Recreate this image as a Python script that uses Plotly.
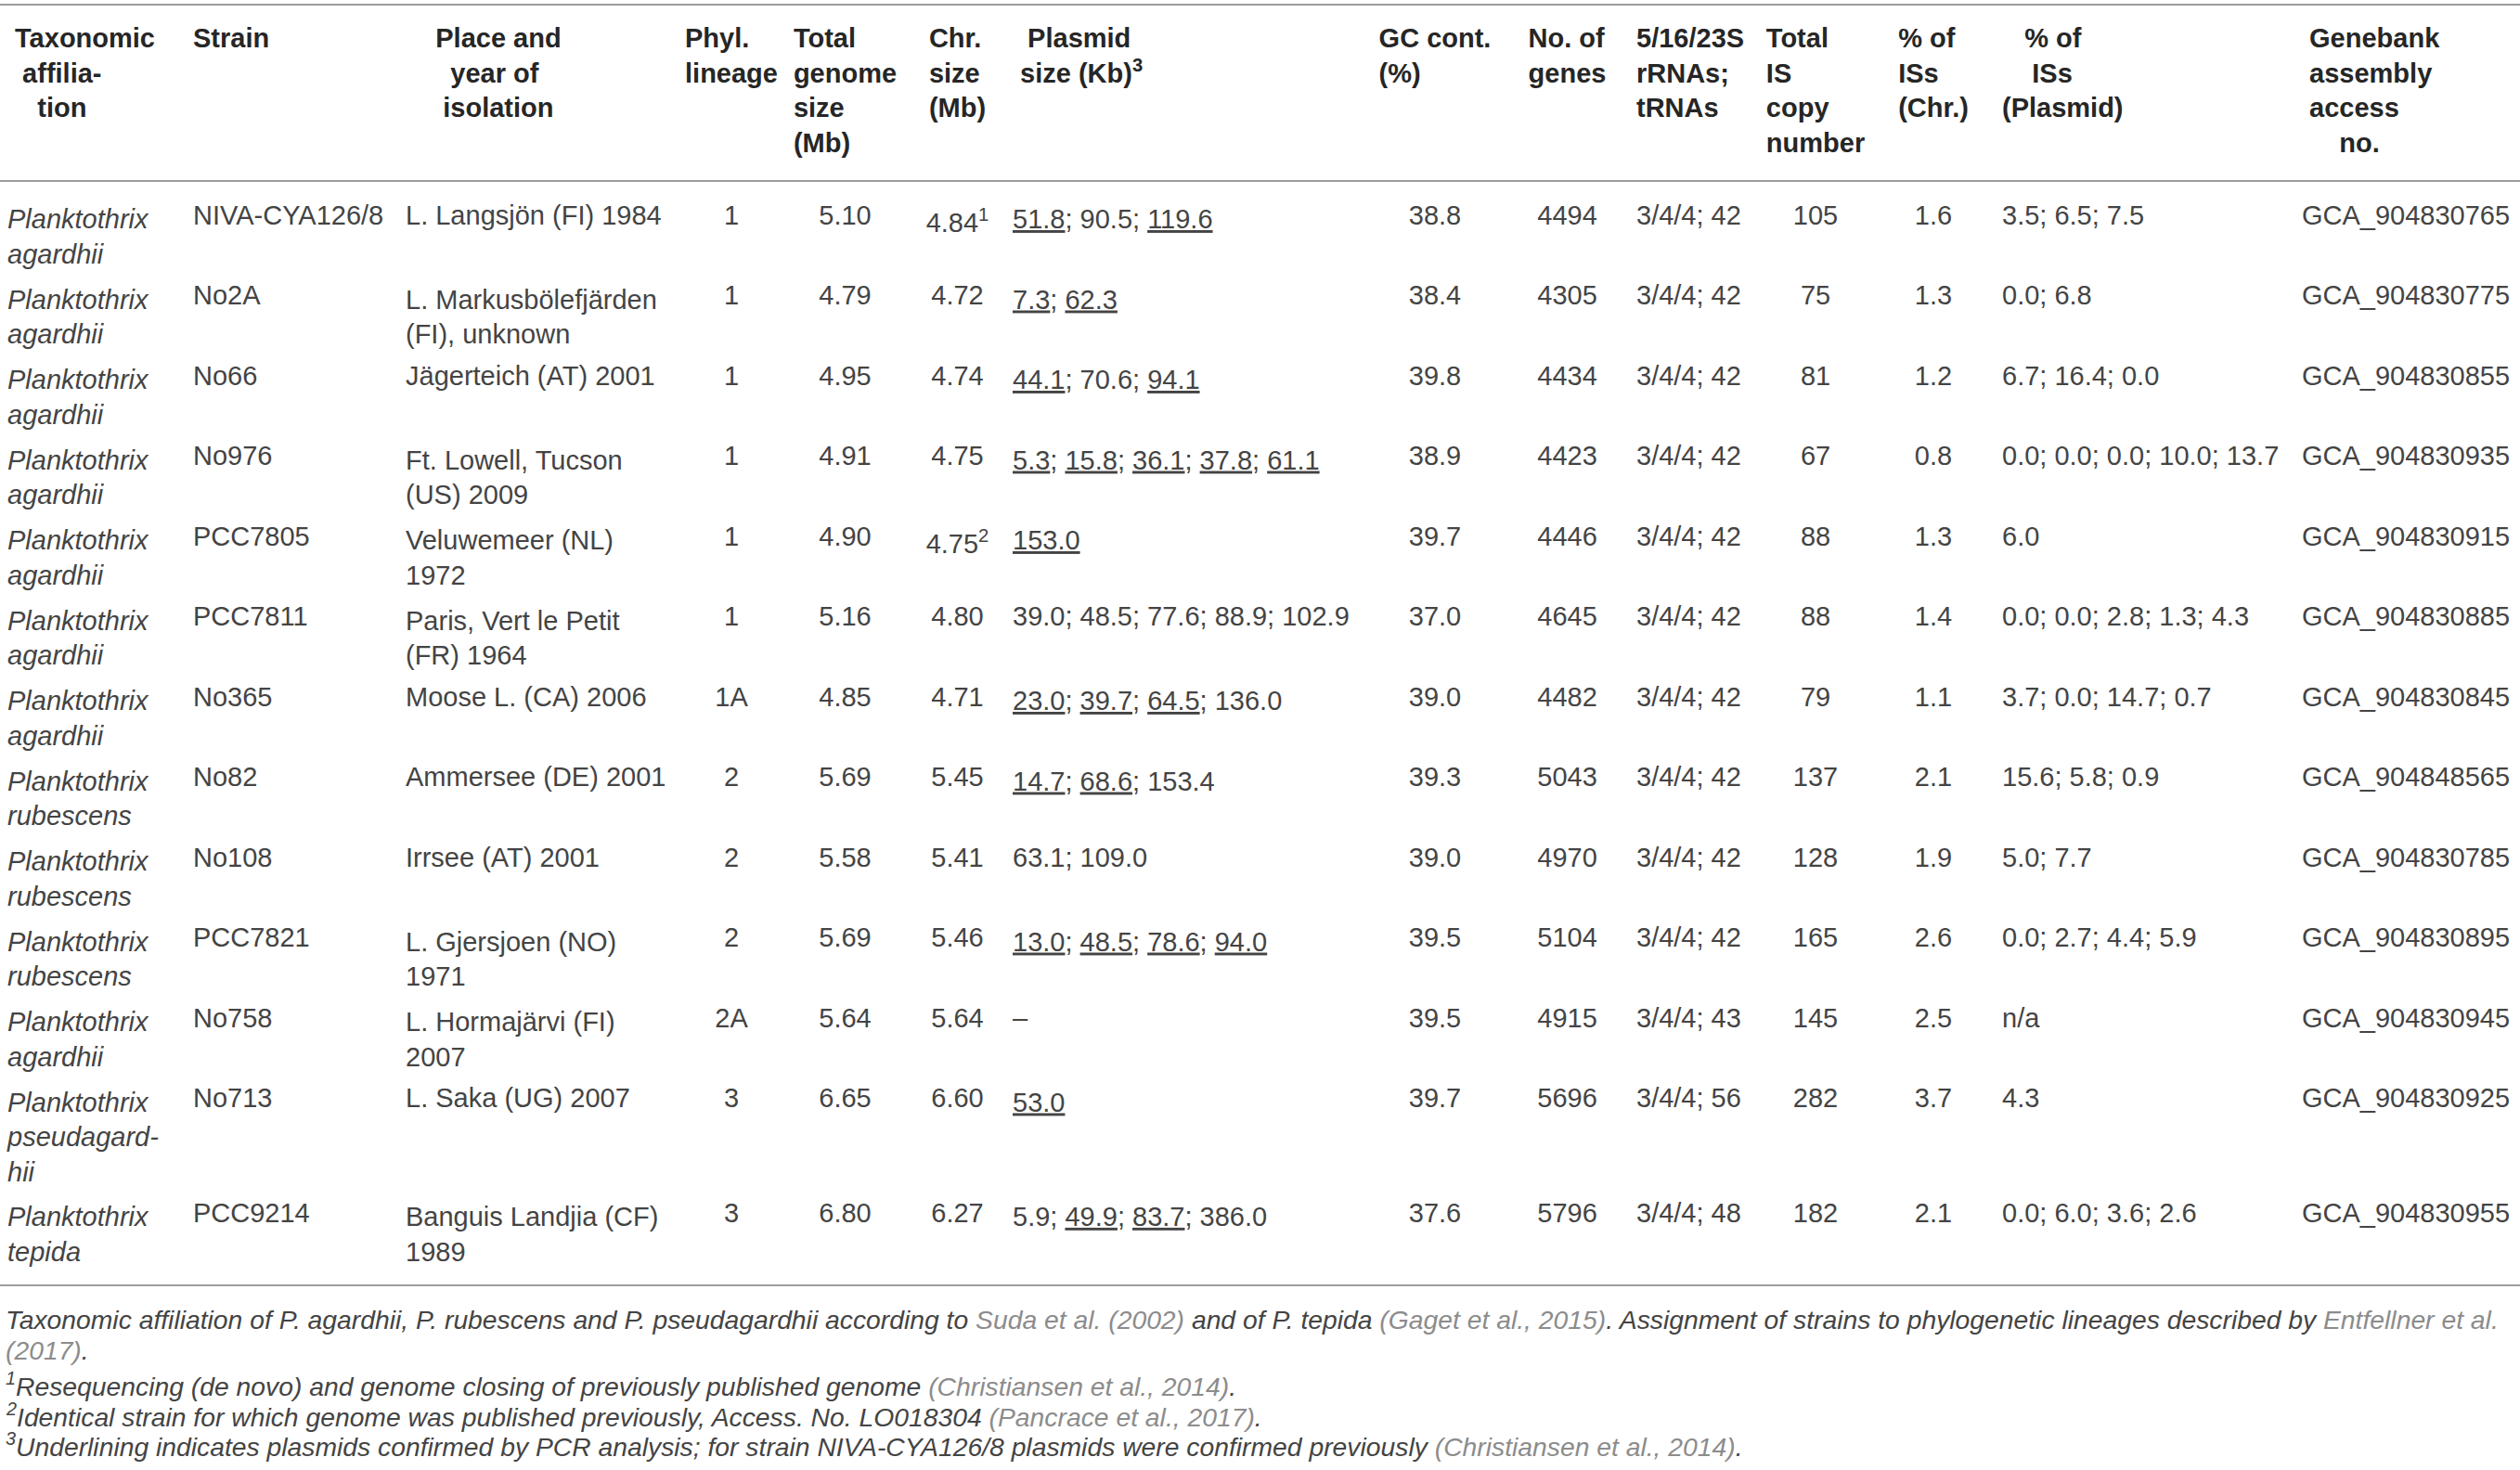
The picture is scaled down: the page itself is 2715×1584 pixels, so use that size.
import plotly.graph_objects as go

W, H = 2715, 1584

# ---- table data ----
GENUS = "Planktothrix"
SPECIES = ["agardhii", "agardhii", "agardhii", "agardhii", "agardhii", "agardhii", "agardhii",
           "rubescens", "rubescens", "rubescens", "agardhii", "pseudagard-hii", "tepida"]
STRAIN = ["NIVA-CYA126/8", "No2A", "No66", "No976", "PCC7805", "PCC7811", "No365",
          "No82", "No108", "PCC7821", "No758", "No713", "PCC9214"]
PLACE = ["L. Langsjön (FI) 1984", "L. Markusbölefjärden<br>(FI), unknown", "Jägerteich (AT) 2001",
         "Ft. Lowell, Tucson<br>(US) 2009", "Veluwemeer (NL)<br>1972", "Paris, Vert le Petit<br>(FR) 1964",
         "Moose L. (CA) 2006", "Ammersee (DE) 2001", "Irrsee (AT) 2001", "L. Gjersjoen (NO)<br>1971",
         "L. Hormajärvi (FI)<br>2007", "L. Saka (UG) 2007", "Banguis Landjia (CF)<br>1989"]
LINEAGE = ["1", "1", "1", "1", "1", "1", "1A", "2", "2", "2", "2A", "3", "3"]
GENOME = [5.10, 4.79, 4.95, 4.91, 4.90, 5.16, 4.85, 5.69, 5.58, 5.69, 5.64, 6.65, 6.80]
CHR = [4.84, 4.72, 4.74, 4.75, 4.75, 4.80, 4.71, 5.45, 5.41, 5.46, 5.64, 6.60, 6.27]
CHR_NOTE = ["1", "", "", "", "2", "", "", "", "", "", "", "", ""]
PLASMIDS = [[51.8, 90.5, 119.6], [7.3, 62.3], [44.1, 70.6, 94.1], [5.3, 15.8, 36.1, 37.8, 61.1],
            [153.0], [39.0, 48.5, 77.6, 88.9, 102.9], [23.0, 39.7, 64.5, 136.0], [14.7, 68.6, 153.4],
            [63.1, 109.0], [13.0, 48.5, 78.6, 94.0], [], [53.0], [5.9, 49.9, 83.7, 386.0]]
PCR_CONFIRMED = [[1, 0, 1], [1, 1], [1, 0, 1], [1, 1, 1, 1, 1], [1], [0, 0, 0, 0, 0], [1, 1, 1, 0],
                 [1, 1, 0], [0, 0], [1, 1, 1, 1], [], [1], [0, 1, 1, 0]]
GC = [38.8, 38.4, 39.8, 38.9, 39.7, 37.0, 39.0, 39.3, 39.0, 39.5, 39.5, 39.7, 37.6]
GENES = [4494, 4305, 4434, 4423, 4446, 4645, 4482, 5043, 4970, 5104, 4915, 5696, 5796]
RRNA = ["3/4/4"] * 13
TRNA = [42, 42, 42, 42, 42, 42, 42, 42, 42, 42, 43, 56, 48]
IS_TOTAL = [105, 75, 81, 67, 88, 88, 79, 137, 128, 165, 145, 282, 182]
IS_CHR = [1.6, 1.3, 1.2, 0.8, 1.3, 1.4, 1.1, 2.1, 1.9, 2.6, 2.5, 3.7, 2.1]
IS_PLASMID = [[3.5, 6.5, 7.5], [0.0, 6.8], [6.7, 16.4, 0.0], [0.0, 0.0, 0.0, 10.0, 13.7], [6.0],
              [0.0, 0.0, 2.8, 1.3, 4.3], [3.7, 0.0, 14.7, 0.7], [15.6, 5.8, 0.9], [5.0, 7.7],
              [0.0, 2.7, 4.4, 5.9], [], [4.3], [0.0, 6.0, 3.6, 2.6]]
ACCESSION = ["GCA_904830765", "GCA_904830775", "GCA_904830855", "GCA_904830935", "GCA_904830915",
             "GCA_904830885", "GCA_904830845", "GCA_904848565", "GCA_904830785", "GCA_904830895",
             "GCA_904830945", "GCA_904830925", "GCA_904830955"]

HEADERS = [
    ["Taxonomic", "affilia-", "tion"],
    ["Strain"],
    ["Place and", "year of", "isolation"],
    ["Phyl.", "lineage"],
    ["Total", "genome", "size", "(Mb)"],
    ["Chr.", "size", "(Mb)"],
    ["Plasmid", "size (Kb)<sup>3</sup>"],
    ["GC cont.", "(%)"],
    ["No. of", "genes"],
    ["5/16/23S", "rRNAs;", "tRNAs"],
    ["Total", "IS", "copy", "number"],
    ["% of", "ISs", "(Chr.)"],
    ["% of", "ISs", "(Plasmid)"],
    ["Genebank", "assembly", "access", "no."],
]

FOOTNOTES = [
    ("", "Taxonomic affiliation of P. agardhii, P. rubescens and P. pseudagardhii according to ",
     "Suda et al. (2002)", " and of P. tepida ", "(Gaget et al., 2015)",
     ". Assignment of strains to phylogenetic lineages described by ", "Entfellner et al.", ""),
    ("", "", "(2017)", ".", "", "", "", ""),
    ("1", "Resequencing (de novo) and genome closing of previously published genome ",
     "(Christiansen et al., 2014)", ".", "", "", "", ""),
    ("2", "Identical strain for which genome was published previously, Access. No. LO018304 ",
     "(Pancrace et al., 2017)", ".", "", "", "", ""),
    ("3", "Underlining indicates plasmids confirmed by PCR analysis; for strain NIVA-CYA126/8 plasmids were confirmed previously ",
     "(Christiansen et al., 2014)", ".", "", "", "", ""),
]

# ---- styling ----
FONT = "Liberation Sans, Arial, Helvetica, sans-serif"
TXT = "#444444"
HEAD = "#262626"
GRAY = "#8c8c8c"
RULE = "#9d9d9d"
FS = 29

col_px = [200, 229, 306, 106, 139, 103, 387, 152, 133, 140, 122, 132, 323, 243]
header_indent = {0: [1, 2, 4], 2: [4, 6, 5], 6: [2, 1], 12: [3, 4, 0], 13: [1, 1, 1, 5]}
header_align = ["left", "left", "left", "center", "center", "center", "left",
                "center", "center", "left", "center", "center", "left", "left"]
cell_align = ["left", "left", "left", "center", "center", "center", "left",
              "center", "center", "left", "center", "center", "left", "left"]


def sizes(vals, flags=None):
    if not vals:
        return None
    out = []
    for k, v in enumerate(vals):
        s = f"{v:.1f}"
        if flags and flags[k]:
            s = f"<u>{s}</u>"
        out.append(s)
    return "; ".join(out)


header_vals = []
for j, lines in enumerate(HEADERS):
    ind = header_indent.get(j, [0] * len(lines))
    header_vals.append("<b>" + "<br>".join("&nbsp;" * n + ln for n, ln in zip(ind, lines)) + "</b>")

taxon = ["<i>" + GENUS + "<br>" + sp.replace("-", "-<br>") + "</i>" for sp in SPECIES]
chr_txt = [f"{c:.2f}" + (f"<sup>{n}</sup>" if n else "") for c, n in zip(CHR, CHR_NOTE)]
plasmid_txt = [sizes(v, f) or "–" for v, f in zip(PLASMIDS, PCR_CONFIRMED)]
is_pl_txt = [sizes(v) or "n/a" for v in IS_PLASMID]

columns = [
    taxon,
    STRAIN,
    PLACE,
    LINEAGE,
    [f"{g:.2f}" for g in GENOME],
    chr_txt,
    plasmid_txt,
    [f"{g:.1f}" for g in GC],
    [str(g) for g in GENES],
    [f"{r}; {t}" for r, t in zip(RRNA, TRNA)],
    [str(n) for n in IS_TOTAL],
    [f"{p:.1f}" for p in IS_CHR],
    is_pl_txt,
    ACCESSION,
]

fig = go.Figure(go.Table(
    domain=dict(x=[0, 1], y=[0, 1 - 17 / H]),
    columnwidth=col_px,
    header=dict(values=header_vals, align=header_align, height=195,
                fill_color="white", line=dict(color="white", width=0),
                font=dict(family=FONT, size=FS, color=HEAD)),
    cells=dict(values=columns, align=cell_align, height=86.5,
               fill_color="white", line=dict(color="white", width=0),
               font=dict(family=FONT, size=FS, color=TXT)),
))

# horizontal rules: top, below header, bottom
for yy in [5, 195, 1385]:
    fig.add_shape(type="line", xref="paper", yref="paper", x0=0, x1=1,
                  y0=1 - yy / H, y1=1 - yy / H, line=dict(color=RULE, width=2))

note_y = [1422, 1455, 1492, 1525, 1557]
for (mark, a, c1, b, c2, d, c3, e), yy in zip(FOOTNOTES, note_y):
    def g(s):
        return f'<span style="color:{GRAY}">{s}</span>' if s else ""
    txt = (f"<sup>{mark}</sup>" if mark else "") + a + g(c1) + b + g(c2) + d + g(c3) + e
    fig.add_annotation(text="<i>" + txt + "</i>", xref="paper", yref="paper",
                       x=4 / W, y=1 - yy / H, xanchor="left", yanchor="middle",
                       showarrow=False, align="left",
                       font=dict(family=FONT, size=28.3, color=TXT))

fig.update_layout(width=W, height=H, margin=dict(l=0, r=0, t=0, b=0),
                  paper_bgcolor="white", plot_bgcolor="white")

fig.write_html("out.html", config={"displayModeBar": False},
               post_script="document.body.style.margin = '0px';")
